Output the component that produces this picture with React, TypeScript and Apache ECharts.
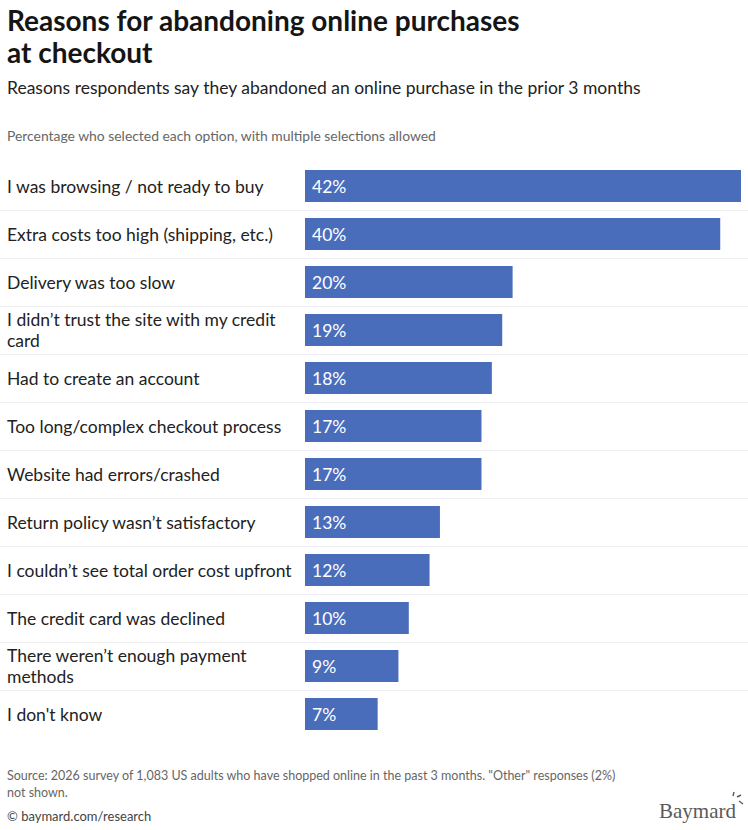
import * as echarts from 'echarts'
import { useEffect, useRef } from 'react'

const reasons = [
  'I was browsing / not ready to buy',
  'Extra costs too high (shipping, etc.)',
  'Delivery was too slow',
  'I didn’t trust the site with my credit\ncard',
  'Had to create an account',
  'Too long/complex checkout process',
  'Website had errors/crashed',
  'Return policy wasn’t satisfactory',
  'I couldn’t see total order cost upfront',
  'The credit card was declined',
  'There weren’t enough payment\nmethods',
  "I don't know",
]

const shares = [42, 40, 20, 19, 18, 17, 17, 13, 12, 10, 9, 7]

const FONT = 'Lato, "Noto Sans", sans-serif'

export default function App() {
  const chartRef = useRef<HTMLDivElement>(null)

  useEffect(() => {
    document.body.style.margin = '0'
    if (!chartRef.current) return
    const chart = echarts.init(chartRef.current, undefined, { renderer: 'svg' })

    const option: any = {
      animation: false,
      backgroundColor: '#ffffff',
      textStyle: { fontFamily: FONT },
      title: [
        {
          text: 'Reasons for abandoning online purchases\nat checkout',
          left: 7,
          top: 4,
          padding: 0,
          textStyle: { fontSize: 28, fontWeight: 700, color: '#151515', lineHeight: 32, fontFamily: FONT },
        },
        {
          text: 'Reasons respondents say they abandoned an online purchase in the prior 3 months',
          left: 7,
          top: 77,
          padding: 0,
          textStyle: { fontSize: 17.5, fontWeight: 400, color: '#222', lineHeight: 20, fontFamily: FONT },
        },
        {
          text: 'Percentage who selected each option, with multiple selections allowed',
          left: 7,
          top: 127,
          padding: 0,
          textStyle: { fontSize: 13.9, fontWeight: 400, color: '#666', lineHeight: 16, fontFamily: FONT },
        },
        {
          text: 'Source: 2026 survey of 1,083 US adults who have shopped online in the past 3 months. "Other" responses (2%)\nnot shown.',
          left: 7,
          top: 767,
          padding: 0,
          textStyle: { fontSize: 12.5, fontWeight: 400, color: '#666', lineHeight: 17, fontFamily: FONT },
        },
        {
          text: '© baymard.com/research',
          left: 7,
          top: 808,
          padding: 0,
          textStyle: { fontSize: 13, fontWeight: 400, color: '#444', lineHeight: 16, fontFamily: FONT },
        },
      ],
      graphic: [
        {
          type: 'text',
          right: 12,
          top: 800,
          style: {
            text: 'Baymard',
            font: '21px "Liberation Serif", "DejaVu Serif", serif',
            fill: '#5a5a5a',
          },
        },
        { type: 'line', shape: { x1: 733, y1: 796, x2: 734, y2: 792 }, style: { stroke: '#5a5a5a', lineWidth: 1.4 } },
        { type: 'line', shape: { x1: 737, y1: 797, x2: 741, y2: 795 }, style: { stroke: '#5a5a5a', lineWidth: 1.4 } },
        { type: 'line', shape: { x1: 739, y1: 801, x2: 743, y2: 804 }, style: { stroke: '#5a5a5a', lineWidth: 1.4 } },
      ],
      grid: [
        { left: 0, right: 0, top: 162, bottom: 92 },
        { left: 305, right: 7, top: 162, bottom: 92 },
      ],
      xAxis: [
        { type: 'value', gridIndex: 0, min: 0, max: 1, show: false },
        { type: 'value', gridIndex: 1, min: 0, max: 42, show: false },
      ],
      yAxis: [
        {
          type: 'category',
          gridIndex: 0,
          data: reasons,
          inverse: true,
          axisLine: { show: false },
          axisTick: { show: false },
          axisLabel: { show: false },
          splitLine: {
            show: true,
            showMinLine: false,
            showMaxLine: false,
            lineStyle: { color: '#efefef', width: 1 },
          },
        },
        {
          type: 'category',
          gridIndex: 1,
          data: reasons,
          inverse: true,
          axisLine: { show: false },
          axisTick: { show: false },
          splitLine: { show: false },
          axisLabel: {
            align: 'left',
            margin: 298,
            fontSize: 17.5,
            lineHeight: 21,
            color: '#222',
            fontFamily: FONT,
          },
        },
      ],
      series: [
        {
          type: 'bar',
          xAxisIndex: 1,
          yAxisIndex: 1,
          data: shares,
          barWidth: 32,
          itemStyle: { color: '#4a6dbb' },
          label: {
            show: true,
            position: 'insideLeft',
            distance: 7,
            formatter: '{c}%',
            color: '#ffffff',
            fontSize: 17.5,
            fontFamily: FONT,
          },
        },
      ],
    }

    chart.setOption(option)
    return () => {
      chart.dispose()
    }
  }, [])

  return <div ref={chartRef} style={{ width: 748, height: 830 }} />
}
